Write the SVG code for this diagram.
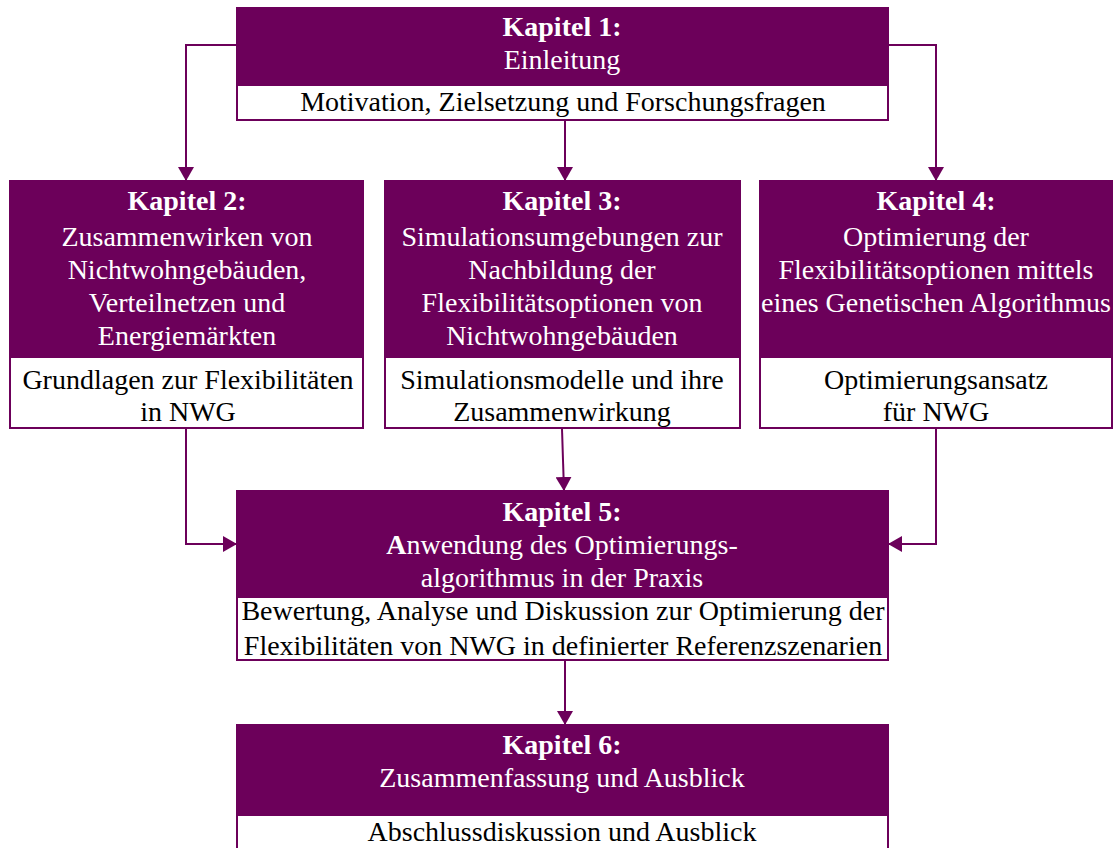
<svg xmlns="http://www.w3.org/2000/svg" width="1119" height="848" viewBox="0 0 1119 848">
  <style>
    .head { fill: #6c005a; stroke: #6c005a; stroke-width: 2; }
    .body { fill: #ffffff; stroke: #6c005a; stroke-width: 2; }
    text { font-family: 'Liberation Serif', 'Times New Roman', Times, serif; font-size: 28px; text-anchor: middle; }
    .w { fill: #ffffff; }
    .b { fill: #000000; }
    .k { font-weight: bold; }
    .link { fill: none; stroke: #6c005a; stroke-width: 2; }
  </style>
  <defs>
    <marker id="arrow" viewBox="0 0 14 16" refX="14" refY="8" markerWidth="14" markerHeight="16" markerUnits="userSpaceOnUse" orient="auto">
      <path d="M0,0 L14,8 L0,16 Z" fill="#6c005a"/>
    </marker>
  </defs>
  <rect width="1119" height="848" fill="#ffffff"/>

  <!-- flow between chapters -->
  <g id="connectors">
    <path class="link" d="M237,45 H186 V181" marker-end="url(#arrow)"/>
    <path class="link" d="M888,45 H936 V181" marker-end="url(#arrow)"/>
    <path class="link" d="M565,121 V181" marker-end="url(#arrow)"/>
    <path class="link" d="M186,429 V544 H237" marker-end="url(#arrow)"/>
    <path class="link" d="M936,429 V544 H888" marker-end="url(#arrow)"/>
    <path class="link" d="M562,429 L564,491" marker-end="url(#arrow)"/>
    <path class="link" d="M565,661 V725" marker-end="url(#arrow)"/>
  </g>

  <g id="kapitel1">
    <rect class="head" x="237" y="8" width="651" height="77"/>
    <rect class="body" x="237" y="85" width="651" height="35"/>
    <text class="w k" x="562" y="36" font-family="Liberation Serif">Kapitel 1:</text>
    <text class="w" x="562" y="69" font-family="Liberation Serif">Einleitung</text>
    <text class="b" x="563" y="111" font-family="Liberation Serif">Motivation, Zielsetzung und Forschungsfragen</text>
  </g>

  <g id="kapitel2">
    <rect class="head" x="10" y="181" width="353" height="176"/>
    <rect class="body" x="10" y="357" width="353" height="71"/>
    <text class="w k" x="187" y="210" font-family="Liberation Serif">Kapitel 2:</text>
    <text class="w" x="187" y="246" font-family="Liberation Serif">Zusammenwirken von</text>
    <text class="w" x="187" y="279" font-family="Liberation Serif">Nichtwohngebäuden,</text>
    <text class="w" x="187" y="312" font-family="Liberation Serif">Verteilnetzen und</text>
    <text class="w" x="187" y="345" font-family="Liberation Serif">Energiemärkten</text>
    <text class="b" x="188" y="389" font-family="Liberation Serif">Grundlagen zur Flexibilitäten</text>
    <text class="b" x="188" y="421" font-family="Liberation Serif">in NWG</text>
  </g>

  <g id="kapitel3">
    <rect class="head" x="385" y="181" width="355" height="176"/>
    <rect class="body" x="385" y="357" width="355" height="71"/>
    <text class="w k" x="562" y="210" font-family="Liberation Serif">Kapitel 3:</text>
    <text class="w" x="562" y="246" font-family="Liberation Serif">Simulationsumgebungen zur</text>
    <text class="w" x="562" y="279" font-family="Liberation Serif">Nachbildung der</text>
    <text class="w" x="562" y="312" font-family="Liberation Serif">Flexibilitätsoptionen von</text>
    <text class="w" x="562" y="345" font-family="Liberation Serif">Nichtwohngebäuden</text>
    <text class="b" x="562" y="389" font-family="Liberation Serif">Simulationsmodelle und ihre</text>
    <text class="b" x="562" y="421" font-family="Liberation Serif">Zusammenwirkung</text>
  </g>

  <g id="kapitel4">
    <rect class="head" x="760" y="181" width="352" height="176"/>
    <rect class="body" x="760" y="357" width="352" height="71"/>
    <text class="w k" x="936" y="210" font-family="Liberation Serif">Kapitel 4:</text>
    <text class="w" x="936" y="246" font-family="Liberation Serif">Optimierung der</text>
    <text class="w" x="936" y="279" font-family="Liberation Serif">Flexibilitätsoptionen mittels</text>
    <text class="w" x="936" y="312" font-family="Liberation Serif">eines Genetischen Algorithmus</text>
    <text class="b" x="936" y="389" font-family="Liberation Serif">Optimierungsansatz</text>
    <text class="b" x="936" y="421" font-family="Liberation Serif">für NWG</text>
  </g>

  <g id="kapitel5">
    <rect class="head" x="237" y="491" width="651" height="106"/>
    <rect class="body" x="237" y="597" width="651" height="63"/>
    <text class="w k" x="562" y="521" font-family="Liberation Serif">Kapitel 5:</text>
    <text class="w" x="562" y="554" font-family="Liberation Serif"><tspan class="k">A</tspan>nwendung des Optimierungs-</text>
    <text class="w" x="562" y="587" font-family="Liberation Serif">algorithmus in der Praxis</text>
    <text class="b" x="563" y="620" font-family="Liberation Serif">Bewertung, Analyse und Diskussion zur Optimierung der</text>
    <text class="b" x="563" y="655" font-family="Liberation Serif">Flexibilitäten von NWG in definierter Referenzszenarien</text>
  </g>

  <g id="kapitel6">
    <rect class="head" x="237" y="725" width="651" height="90"/>
    <rect class="body" x="237" y="815" width="651" height="40"/>
    <text class="w k" x="562" y="754" font-family="Liberation Serif">Kapitel 6:</text>
    <text class="w" x="562" y="787" font-family="Liberation Serif">Zusammenfassung und Ausblick</text>
    <text class="b" x="562" y="841" font-family="Liberation Serif">Abschlussdiskussion und Ausblick</text>
  </g>
</svg>
